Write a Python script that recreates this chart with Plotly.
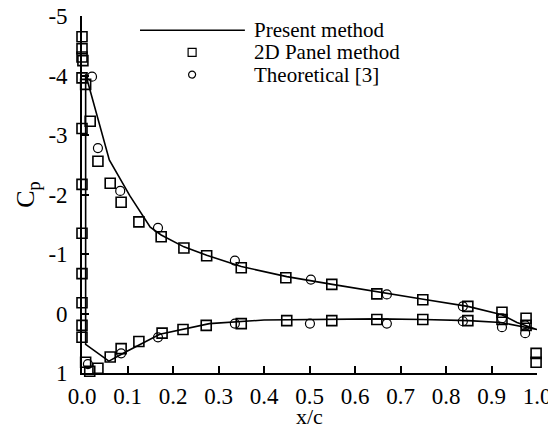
import plotly.graph_objects as go

# present method (line): upper surface TE -> LE, then lower surface LE -> TE
present_x = [1.0, 0.956, 0.923, 0.848, 0.75, 0.65, 0.55, 0.45, 0.35, 0.274, 0.224, 0.174, 0.15, 0.105, 0.06, 0.008,
             0.008, 0.059, 0.1, 0.171, 0.28, 0.4, 0.5, 0.65, 0.75, 0.85, 0.92, 1.0]
present_cp = [0.27, 0.15, 0.02, -0.12, -0.24, -0.36, -0.49, -0.62, -0.79, -0.98, -1.12, -1.32, -1.45, -1.98, -2.58, -4.02,
              0.52, 0.8, 0.63, 0.35, 0.17, 0.11, 0.1, 0.09, 0.1, 0.12, 0.15, 0.27]

# 2D panel method (squares)
panel_x = [0.0, 0.0, 0.0, 0.002, 0.0, 0.008, 0.0, 0.018, 0.0, 0.0, 0.0, 0.0, 0.0, 0.0,
           0.035, 0.062, 0.086, 0.125, 0.174, 0.224, 0.274, 0.35, 0.448, 0.549, 0.648, 0.749, 0.848, 0.923, 0.976,
           0.008, 0.017, 0.035, 0.062, 0.086, 0.125, 0.176, 0.222, 0.273, 0.35, 0.45, 0.549, 0.648, 0.749, 0.848,
           0.923, 0.976, 0.998, 0.998]
panel_cp = [-4.65, -4.45, -4.31, -4.25, -3.96, -3.85, -3.11, -3.23, -2.17, -1.35, -0.67, -0.18, 0.2, 0.4,
            -2.56, -2.19, -1.87, -1.54, -1.29, -1.1, -0.97, -0.77, -0.6, -0.49, -0.33, -0.23, -0.12, -0.02, 0.08,
            0.82, 0.97, 0.92, 0.73, 0.59, 0.47, 0.33, 0.27, 0.2, 0.17, 0.12, 0.12, 0.1, 0.1, 0.12,
            0.1, 0.2, 0.67, 0.82]

# theoretical (circles)
theory_x = [0.022, 0.035, 0.084, 0.167, 0.336, 0.503, 0.67, 0.837, 0.923, 0.974,
            0.013, 0.086, 0.167, 0.336, 0.501, 0.67, 0.837, 0.923, 0.974]
theory_cp = [-3.98, -2.78, -2.06, -1.44, -0.89, -0.57, -0.32, -0.12, 0.08, 0.2,
             0.85, 0.67, 0.4, 0.17, 0.17, 0.17, 0.13, 0.23, 0.33]

names = ["Present method", "2D Panel method", "Theoretical [3]"]
x_ticks = [0.0, 0.1, 0.2, 0.3, 0.4, 0.5, 0.6, 0.7, 0.8, 0.9, 1.0]
y_ticks = [-5, -4, -3, -2, -1, 0, 1]

font = "Liberation Serif"

fig = go.Figure()
fig.add_trace(go.Scatter(x=present_x, y=present_cp, mode="lines", name=names[0],
                         line=dict(color="black", width=1.6), showlegend=False))
fig.add_trace(go.Scatter(x=panel_x, y=panel_cp, mode="markers", name=names[1],
                         marker=dict(symbol="square-open", size=10, color="black", line=dict(width=1.6)),
                         showlegend=False, cliponaxis=False))
fig.add_trace(go.Scatter(x=theory_x, y=theory_cp, mode="markers", name=names[2],
                         marker=dict(symbol="circle-open", size=9, color="black", line=dict(width=1.2)),
                         showlegend=False, cliponaxis=False))

# hand drawn legend (long line sample like the original)
leg_y = [0.96, 0.898, 0.836]
fig.add_shape(type="line", xref="paper", yref="paper", x0=0.1275, x1=0.358, y0=leg_y[0], y1=leg_y[0],
              line=dict(color="black", width=1.6))
fig.add_shape(type="rect", xref="paper", yref="paper", xsizemode="pixel", ysizemode="pixel",
              xanchor=0.242, yanchor=leg_y[1], x0=-4, x1=4, y0=-4, y1=4,
              line=dict(color="black", width=1.2))
fig.add_shape(type="circle", xref="paper", yref="paper", xsizemode="pixel", ysizemode="pixel",
              xanchor=0.242, yanchor=leg_y[2], x0=-3.5, x1=3.5, y0=-3.5, y1=3.5,
              line=dict(color="black", width=1.2))
for n, yy in zip(names, leg_y):
    fig.add_annotation(x=0.374, y=yy, xref="paper", yref="paper", text=n, showarrow=False,
                       xanchor="left", yanchor="middle", font=dict(family=font, size=21, color="black"))

# x axis title placed by hand under the tick labels
fig.add_annotation(x=0.5, y=0, xref="paper", yref="paper", text="x/c", showarrow=False,
                   xanchor="center", yanchor="top", yshift=-29, font=dict(family=font, size=22, color="black"))

# page body has an 8px margin, so the figure is made 8px smaller and margins shifted
fig.update_layout(
    width=548, height=417,
    margin=dict(l=74, r=19, t=8, b=52),
    plot_bgcolor="white", paper_bgcolor="white",
    font=dict(family=font, size=23, color="black"),
)
fig.update_xaxes(range=[0, 1], tickvals=x_ticks, ticktext=["%.1f" % v for v in x_ticks],
                 tickfont=dict(family=font, size=23, color="black"), ticklabeloverflow="allow",
                 ticks="inside", ticklen=7, tickwidth=1.5, tickcolor="black", automargin=False,
                 showline=True, linecolor="black", linewidth=1.6, showgrid=False, zeroline=False,
                 ticklabelstandoff=2)
fig.update_yaxes(range=[1, -5], tickvals=y_ticks, ticktext=[str(v) for v in y_ticks],
                 tickfont=dict(family=font, size=23, color="black"), ticklabeloverflow="allow",
                 ticks="inside", ticklen=7, tickwidth=1.5, tickcolor="black", automargin=False,
                 showline=True, linecolor="black", linewidth=1.6, showgrid=False, zeroline=False,
                 ticklabelstandoff=8,
                 title=dict(text="C<sub>p</sub>", font=dict(family=font, size=26), standoff=6))

fig.write_html("out.html")
